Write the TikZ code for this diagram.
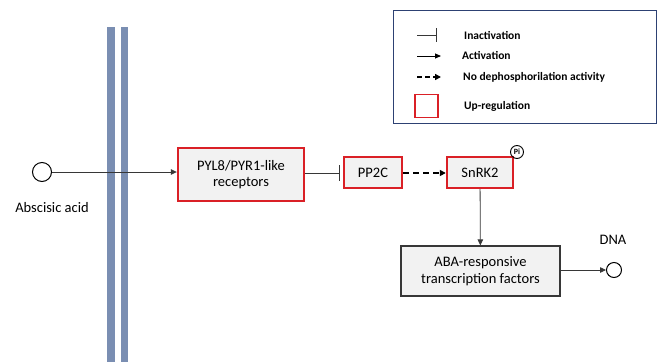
\documentclass[tikz,border=0pt]{standalone}
\usepackage{fontspec}
\setmainfont{Carlito}
\usetikzlibrary{arrows.meta}
\definecolor{membrane}{RGB}{122,142,178}
\definecolor{upred}{RGB}{218,32,38}
\definecolor{boxfill}{RGB}{242,242,242}
\definecolor{legendframe}{RGB}{45,65,115}
\definecolor{wire}{RGB}{55,55,55}
\tikzset{
  x=1pt, y=-1pt,
  labelfont/.style={font=\fontsize{14.5}{16.5}\selectfont},
  upbox/.style={draw=upred, line width=2.4pt, fill=boxfill, align=center,
    labelfont, inner sep=0pt},
  plainbox/.style={draw=wire, line width=1.2pt, fill=boxfill, align=center,
    labelfont, inner sep=0pt},
  wireline/.style={draw=wire, line width=0.8pt},
  act/.style={wireline, -{Triangle[length=6pt,width=5.5pt]}},
  inhib/.style={wireline, -{Bar[width=16pt,line width=1pt]}},
  noact/.style={draw=black, line width=2pt, dash pattern=on 6pt off 4pt,
    -{Triangle[length=6pt,width=6pt]}},
  legtext/.style={anchor=west, font=\fontsize{11.5}{13}\bfseries\selectfont, inner sep=0pt},
  species/.style={circle, draw=black, line width=1pt, minimum size=19pt, inner sep=0pt},
}
\begin{document}
\begin{tikzpicture}
\useasboundingbox (0,0) rectangle (659,362);
\fill[white] (0,0) rectangle (659,362);

% cell membrane (double bar)
\fill[membrane] (107,27) rectangle (115,362);
\fill[membrane] (121,27) rectangle (128,362);

% legend
\node[draw=legendframe, line width=1pt, minimum width=263pt, minimum height=113pt,
  anchor=north west, inner sep=0pt] (legend) at (393,10) {};
\coordinate (l1a) at (417,35); \coordinate (l1b) at (437,35);
\coordinate (l2a) at (417,56); \coordinate (l2b) at (441,56);
\coordinate (l3a) at (417,77); \coordinate (l3b) at (441,77);
\draw[wireline, line width=0.6pt, -{Bar[width=14pt,line width=0.8pt]}] (l1a) -- (l1b);
\draw[draw=black, line width=0.9pt, -{Triangle[length=6pt,width=5pt]}] (l2a) -- (l2b);
\draw[draw=black, line width=2pt, dash pattern=on 5pt off 3pt, -{Triangle[length=6pt,width=6pt]}] (l3a) -- (l3b);
\node[draw=upred, line width=1.2pt, minimum width=23pt, minimum height=23pt, inner sep=0pt] (l4) at (426.5,106) {};
\node[legtext] (t1) at (464,35) {Inactivation};
\node[legtext] (t2) at (462,55) {Activation};
\node[legtext] (t3) at (463,77) {No dephosphorilation activity};
\node[legtext] (t4) at (464,106) {Up-regulation};

% pathway
\node[species] (aba) at (42,172) {};
\node[labelfont, inner sep=0pt] (abalabel) at (52,208) {Abscisic acid};

\node[upbox, minimum width=126pt, minimum height=53pt] (pyl) at (241,174.5)
  {PYL8/PYR1-like\\receptors};
\node[upbox, minimum width=58pt, minimum height=31pt] (pp2c) at (373,172.5) {PP2C};
\node[upbox, minimum width=66pt, minimum height=31pt] (snrk) at (480,172.5) {SnRK2};
\node[circle, draw=black, line width=0.9pt, minimum size=13pt, inner sep=0pt,
  font=\fontsize{8}{8}\bfseries\selectfont] (pi) at (517,152) {Pi};

\node[plainbox, minimum width=159pt, minimum height=50pt] (tf) at (480.5,271)
  {ABA-responsive\\transcription factors};
\node[species, minimum size=15pt] (dna) at (614,270) {};
\node[labelfont, inner sep=0pt] (dnalabel) at (613,240) {DNA};

\draw[act] (aba) -- (pyl.west |- aba);
\draw[inhib] (pyl.east |- 0,173) -- ([xshift=-3pt]pp2c.west |- 0,173);
\draw[noact] (pp2c.east |- 0,173) -- (snrk.west |- 0,173);
\draw[act] (snrk) -- (tf);
\draw[act] (tf.east |- dna) -- (dna);
\end{tikzpicture}
\end{document}
